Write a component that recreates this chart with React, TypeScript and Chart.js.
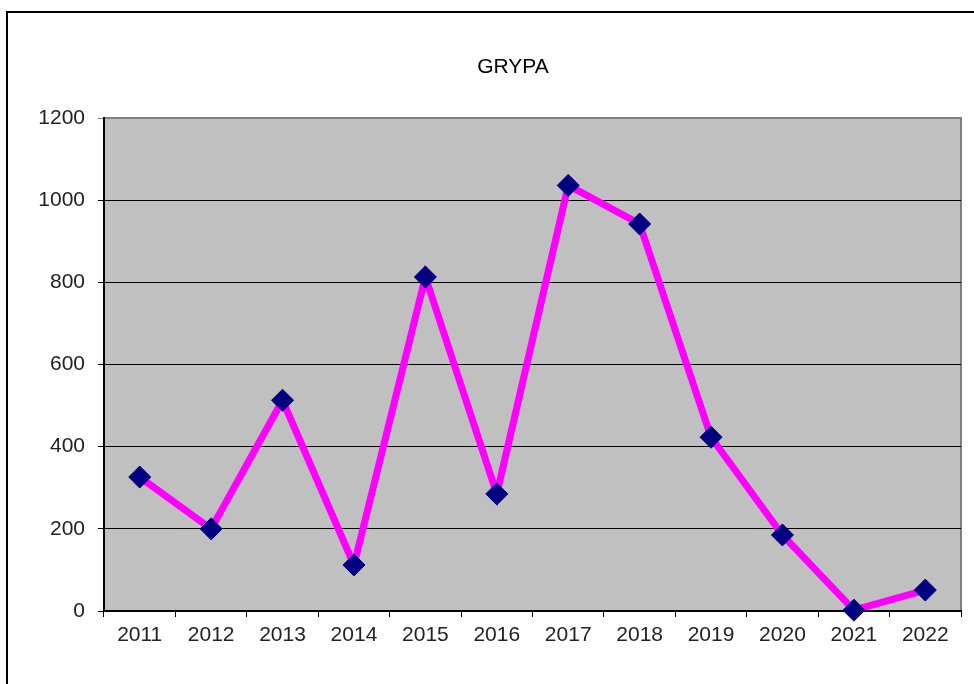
import React, { useEffect, useRef } from "react";
import { Chart, registerables } from "chart.js";

Chart.register(...registerables);

const years = ["2011", "2012", "2013", "2014", "2015", "2016", "2017", "2018", "2019", "2020", "2021", "2022"];
const grypaValues = [326, 200, 513, 112, 813, 285, 1036, 942, 423, 185, 2, 51];
const chartTitle = "GRYPA";

const FONT = "'Liberation Sans', Arial, sans-serif";

const plotBg = {
  id: "plotBg",
  beforeDraw(chart: any) {
    const { ctx, chartArea: a } = chart;
    ctx.save();
    ctx.fillStyle = "#C0C0C0";
    ctx.fillRect(a.left, a.top, a.right - a.left, a.bottom - a.top);
    ctx.strokeStyle = "#808080";
    ctx.lineWidth = 2;
    ctx.beginPath();
    ctx.moveTo(a.left, a.top);
    ctx.lineTo(a.right, a.top);
    ctx.lineTo(a.right, a.bottom);
    ctx.stroke();
    ctx.restore();
  },
};

const titlePlugin = {
  id: "frameTitle",
  afterDraw(chart: any) {
    const { ctx } = chart;
    ctx.save();
    ctx.fillStyle = "#000";
    ctx.font = `21px ${FONT}`;
    ctx.textAlign = "center";
    ctx.textBaseline = "middle";
    ctx.fillText(chartTitle, chart.width / 2 + 26, 67);
    ctx.restore();
  },
};

export default function App() {
  const ref = useRef<HTMLCanvasElement | null>(null);
  useEffect(() => {
    if (!ref.current) return;
    const chart = new Chart(ref.current, {
      type: "line",
      data: {
        labels: years,
        datasets: [
          {
            data: grypaValues,
            borderColor: "#FF00FF",
            borderWidth: 7,
            tension: 0,
            pointStyle: "rectRot",
            pointRadius: 11,
            pointHoverRadius: 11,
            pointBackgroundColor: "#000080",
            pointBorderColor: "#000080",
            pointBorderWidth: 1,
            clip: false as any,
          },
        ],
      },
      options: {
        animation: false,
        responsive: false,
        events: [],
        layout: { padding: { left: 0, right: 13, top: 118, bottom: 33 } },
        plugins: {
          legend: { display: false },
          tooltip: { enabled: false },
          title: { display: false },
        },
        scales: {
          x: {
            offset: true,
            grid: {
              offset: true,
              drawOnChartArea: false,
              drawTicks: true,
              tickLength: 6,
              color: "#000",
            },
            border: { display: true, color: "#000", width: 2 },
            ticks: {
              color: "#222",
              font: { family: FONT, size: 21 },
              padding: 6,
              maxRotation: 0,
              autoSkip: false,
            },
            afterFit(scale: any) {
              scale.height = 40;
            },
          },
          y: {
            min: 0,
            max: 1200,
            ticks: {
              stepSize: 200,
              color: "#222",
              font: { family: FONT, size: 21 },
              padding: 13,
              callback: (v: any) => String(v),
            },
            grid: {
              color: (c: any) => (c.tick && c.tick.value === 1200 ? "#808080" : "#000"),
              lineWidth: 1,
              tickLength: 6,
              drawTicks: true,
            },
            border: { display: true, color: "#000", width: 2 },
            afterFit(scale: any) {
              scale.width = 104;
            },
          },
        },
      },
      plugins: [plotBg, titlePlugin],
    });
    return () => chart.destroy();
  }, []);

  return (
    <div style={{ position: "fixed", left: 0, top: 0, width: 974, height: 684, overflow: "hidden", background: "#fff" }}>
      <div
        style={{
          position: "absolute",
          left: 6,
          top: 11,
          width: 1100,
          height: 800,
          border: "2px solid #000",
          boxSizing: "border-box",
        }}
      />
      <canvas ref={ref} width={974} height={684} style={{ position: "absolute", left: 0, top: 0, width: 974, height: 684 }} />
    </div>
  );
}
